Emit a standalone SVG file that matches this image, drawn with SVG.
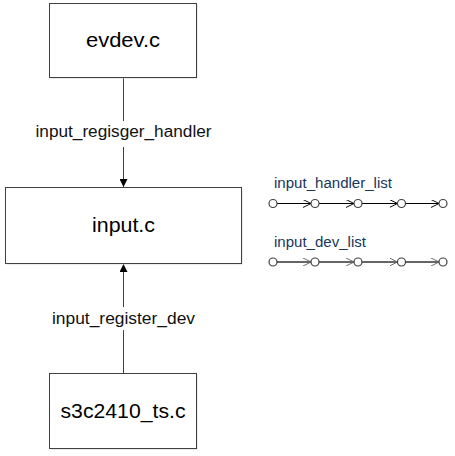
<svg xmlns="http://www.w3.org/2000/svg" width="455" height="456" viewBox="0 0 455 456">
<defs>
<marker id="solid" viewBox="0 0 10 10" refX="10" refY="5" markerWidth="8" markerHeight="8" markerUnits="userSpaceOnUse" orient="auto">
<path d="M0,0 L10,5 L0,10 Z" fill="#000"/>
</marker>
<marker id="openv" viewBox="0 0 10 10" refX="10" refY="5" markerWidth="8" markerHeight="8" markerUnits="userSpaceOnUse" orient="auto">
<path d="M0,0 L10,5 L0,10" fill="none" stroke="#000" stroke-width="1.2"/>
</marker>
<marker id="openvg" viewBox="0 0 10 10" refX="10" refY="5" markerWidth="8" markerHeight="8" markerUnits="userSpaceOnUse" orient="auto">
<path d="M0,0 L10,5 L0,10" fill="none" stroke="#666" stroke-width="1.2"/>
</marker>
</defs>
<style>
.box{fill:#fff;stroke:#404040;stroke-width:1}
.shadow{fill:#d8d8d8}
.big{font-family:"Liberation Sans",Arial,sans-serif;font-size:21px;fill:#000;text-anchor:middle}
.lbl{font-family:"Liberation Sans",Arial,sans-serif;font-size:16px;fill:#111;text-anchor:middle}
.list{font-family:"Liberation Sans",Arial,sans-serif;font-size:14px;fill:#17365d}
.conn{stroke:#404040;stroke-width:1;fill:none}
.dot{fill:#fff;stroke:#404040;stroke-width:1.2}
</style>
<rect width="455" height="456" fill="#fff"/>
<g id="connectors">
<line class="conn" x1="123.5" y1="77.5" x2="123.5" y2="121"/>
<line class="conn" x1="123.5" y1="147" x2="123.5" y2="187" marker-end="url(#solid)"/>
<line class="conn" x1="123.5" y1="373" x2="123.5" y2="330"/>
<line class="conn" x1="123.5" y1="307" x2="123.5" y2="264" marker-end="url(#solid)"/>
<text class="lbl" x="123.5" y="137" textLength="176" lengthAdjust="spacingAndGlyphs">input_regisger_handler</text>
<text class="lbl" x="123.5" y="324" textLength="143" lengthAdjust="spacingAndGlyphs">input_register_dev</text>
</g>
<g id="evdev">
<rect class="shadow" x="50.5" y="4.5" width="147" height="74"/>
<rect class="box" x="49.5" y="3.5" width="147" height="74"/>
<text class="big" x="123" y="47" textLength="74" lengthAdjust="spacingAndGlyphs">evdev.c</text>
</g>
<g id="input">
<rect class="shadow" x="6.5" y="188.5" width="236" height="76"/>
<rect class="box" x="5.5" y="187.5" width="236" height="76"/>
<text class="big" x="123.5" y="232" textLength="63" lengthAdjust="spacingAndGlyphs">input.c</text>
</g>
<g id="s3c2410_ts">
<rect class="shadow" x="50.5" y="374.5" width="147" height="75"/>
<rect class="box" x="49.5" y="373.5" width="147" height="75"/>
<text class="big" x="123" y="418" textLength="125" lengthAdjust="spacingAndGlyphs">s3c2410_ts.c</text>
</g>
<g id="input_handler_list">
<text class="list" x="274" y="188" textLength="118" lengthAdjust="spacingAndGlyphs">input_handler_list</text>
<g stroke="#000" stroke-width="1" fill="none">
<line x1="277" y1="203.5" x2="311" y2="203.5" marker-end="url(#openv)"/>
<line x1="319" y1="203.5" x2="354" y2="203.5" marker-end="url(#openv)"/>
<line x1="362" y1="203.5" x2="397.5" y2="203.5" marker-end="url(#openv)"/>
<line x1="405.5" y1="203.5" x2="439" y2="203.5" marker-end="url(#openv)"/>
</g>
<circle class="dot" cx="273" cy="203.5" r="4"/>
<circle class="dot" cx="315" cy="203.5" r="4"/>
<circle class="dot" cx="358" cy="203.5" r="4"/>
<circle class="dot" cx="401.5" cy="203.5" r="4"/>
<circle class="dot" cx="443" cy="203.5" r="4"/>
</g>
<g id="input_dev_list">
<text class="list" x="274" y="246.5" textLength="92" lengthAdjust="spacingAndGlyphs">input_dev_list</text>
<g stroke="#666" stroke-width="2" fill="none">
<line x1="277" y1="262" x2="311" y2="262" marker-end="url(#openvg)"/>
<line x1="319" y1="262" x2="354" y2="262" marker-end="url(#openvg)"/>
<line x1="362" y1="262" x2="397.5" y2="262" marker-end="url(#openvg)"/>
<line x1="405.5" y1="262" x2="439" y2="262" marker-end="url(#openvg)"/>
</g>
<circle class="dot" cx="273" cy="262" r="4"/>
<circle class="dot" cx="315" cy="262" r="4"/>
<circle class="dot" cx="358" cy="262" r="4"/>
<circle class="dot" cx="401.5" cy="262" r="4"/>
<circle class="dot" cx="443" cy="262" r="4"/>
</g>
</svg>
